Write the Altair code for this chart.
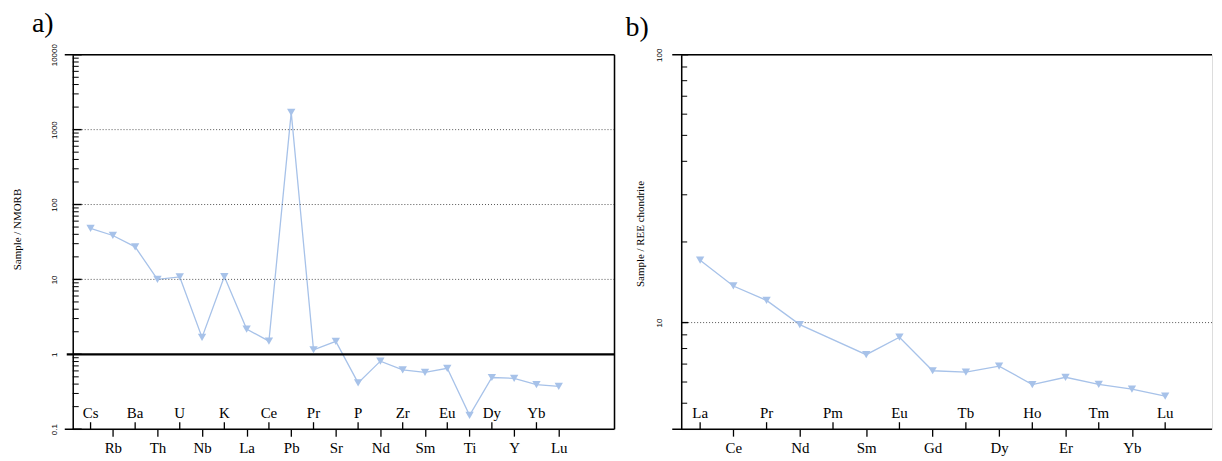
import altair as alt
import pandas as pd

SERIF = "Liberation Serif"
SANS = "Liberation Sans"
LINE_COLOR = "#a7c2e9"

# ---------------- data ----------------
left_elements = ["Cs", "Rb", "Ba", "Th", "U", "Nb", "K", "La", "Ce", "Pb", "Pr",
                 "Sr", "P", "Nd", "Zr", "Sm", "Eu", "Ti", "Dy", "Y", "Yb", "Lu"]
left_values = [48, 38.6, 27.2, 10.0, 10.8, 1.68, 10.9, 2.17, 1.50, 1700, 1.15,
               1.49, 0.415, 0.81, 0.62, 0.575, 0.65, 0.153, 0.49, 0.478, 0.394, 0.374]

right_elements = ["La", "Ce", "Pr", "Nd", "Pm", "Sm", "Eu", "Gd", "Tb", "Dy",
                  "Ho", "Er", "Tm", "Yb", "Lu"]
right_values = [17.1, 13.7, 12.1, 9.83, None, 7.59, 8.82, 6.61, 6.53, 6.88,
                5.87, 6.25, 5.88, 5.64, 5.31]

left_tick_labels = [0.1, 1, 10, 100, 1000, 10000]
left_minor_ticks = [0.2, 0.3, 0.4, 0.5, 0.6, 0.7, 0.8, 0.9,
                    2, 3, 4, 5, 6, 7, 8, 9,
                    20, 30, 40, 50, 60, 70, 80, 90,
                    200, 300, 400, 500, 600, 700, 800, 900,
                    2000, 3000, 4000, 5000, 6000, 7000, 8000, 9000]
left_grid = [10, 100, 1000]

right_tick_labels = [10, 100]
right_minor_ticks = [5, 6, 7, 8, 9, 20, 30, 40, 50, 60, 70, 80, 90]
right_grid = [10]


def make_panel(elements, values, x_domain, y_domain, tick_labels, minor_ticks,
               grid_vals, width, height, ytitle, title, title_dx, label_pad,
               title_pad, title_y, unit_line, right_frame, frame_ext, major_len,
               title_offset):
    df = pd.DataFrame({"idx": list(range(1, len(elements) + 1)),
                       "name": elements, "value": values})
    pts = df[df["value"].notna()]
    upper = df[df["idx"] % 2 == 1]
    lower_idx = [int(i) for i in df["idx"] if i % 2 == 0]

    x_scale = alt.Scale(domain=x_domain, nice=False, zero=False)
    y_scale = alt.Scale(type="log", domain=y_domain, nice=False)

    names_js = "[" + ",".join("'%s'" % e for e in elements) + "]"
    x_axis = alt.Axis(values=lower_idx, labelExpr=names_js + "[datum.value - 1]",
                      title=None, grid=False, domain=False, ticks=True, tickSize=7,
                      tickColor="black", tickWidth=1.3, labelFont=SERIF,
                      labelFontSize=15, labelColor="black", labelPadding=4,
                      labelAngle=0, labelOverlap=False, labelFlush=False)
    y_axis = alt.Axis(values=tick_labels, format="~g", title=ytitle, grid=False,
                      ticks=False, tickSize=0, domain=True, domainColor="black",
                      domainWidth=1.5, labelAngle=270, labelAlign="center",
                      labelBaseline="bottom", labelFont=SANS, labelFontSize=8,
                      labelColor="black", labelPadding=label_pad,
                      labelOverlap=False, labelFlush=False,
                      titleFont=SERIF, titleFontSize=11, titleFontWeight="normal",
                      titleColor="black", titlePadding=title_pad, titleY=title_y)

    X = lambda f: alt.X(f, scale=x_scale, axis=x_axis)
    Y = lambda f: alt.Y(f, scale=y_scale, axis=y_axis)

    base = alt.Chart(pts).encode(x=X("idx:Q"), y=Y("value:Q"))
    line = base.mark_line(color=LINE_COLOR, strokeWidth=1.3)
    points = base.mark_point(shape="triangle-down", filled=True, size=70,
                             color=LINE_COLOR, opacity=1)

    grid = alt.Chart(pd.DataFrame({"v": grid_vals})).mark_rule(
        color="#555555", strokeDash=[1, 2], strokeWidth=1
    ).encode(y=Y("v:Q"))

    minor = alt.Chart(pd.DataFrame({"v": minor_ticks})).mark_rule(
        color="black", strokeWidth=1
    ).encode(y=Y("v:Q"), x=alt.value(0), x2=alt.value(6))

    major = alt.Chart(pd.DataFrame({"v": tick_labels})).mark_rule(
        color="black", strokeWidth=1.4
    ).encode(y=Y("v:Q"), x=alt.value(0), x2=alt.value(major_len))

    frame = alt.Chart(pd.DataFrame({"v": [y_domain[0], y_domain[1]]})).mark_rule(
        color="black", strokeWidth=1.6
    ).encode(y=Y("v:Q"), x=alt.value(-frame_ext), x2=alt.value(width))

    up_ticks = alt.Chart(upper).mark_rule(color="black", strokeWidth=1.3).encode(
        x=X("idx:Q"), y=alt.value(height - 7), y2=alt.value(height))
    up_text = alt.Chart(upper).mark_text(
        font=SERIF, fontSize=15, baseline="middle", align="center", color="black"
    ).encode(x=X("idx:Q"), y=alt.value(height - 16), text="name:N")

    layers = [line, grid, minor, major, frame]
    if unit_line is not None:
        layers.append(alt.Chart(pd.DataFrame({"v": [unit_line]})).mark_rule(
            color="black", strokeWidth=2.2
        ).encode(y=Y("v:Q"), x=alt.value(-6), x2=alt.value(width)))
    if right_frame:
        layers.append(alt.Chart(pd.DataFrame({"a": [0]})).mark_rule(
            color="black", strokeWidth=1.5
        ).encode(x=alt.value(width), y=alt.value(0), y2=alt.value(height)))
    layers += [up_ticks, up_text, points]

    return alt.layer(*layers).properties(
        width=width, height=height,
        title=alt.TitleParams(title, anchor="start", frame="group", dx=title_dx,
                              font=SERIF, fontSize=28, fontWeight="normal",
                              color="black", baseline="alphabetic",
                              offset=title_offset),
    )


left = make_panel(left_elements, left_values, [0.2, 24.5], [0.1, 10000],
                  left_tick_labels, left_minor_ticks, left_grid, 544, 376,
                  "Sample / NMORB", "a)", -41, 14, 28, 175, 1, True, 8, 9, -16)

right = make_panel(right_elements, right_values, [0.43, 16.41], [4, 100],
                   right_tick_labels, right_minor_ticks, right_grid, 533, 376,
                   "Sample / REE chondrite", "b)", -56, 18, 9.5, 179.5, None,
                   False, 9, 7, -16)

chart = alt.hconcat(left, right, spacing=8).properties(
    padding={"left": 3, "top": 0, "right": 0, "bottom": 0}
).configure_view(stroke=None).configure(background="white")

chart.save("out.html", embed_options={"renderer": "svg", "actions": False})
